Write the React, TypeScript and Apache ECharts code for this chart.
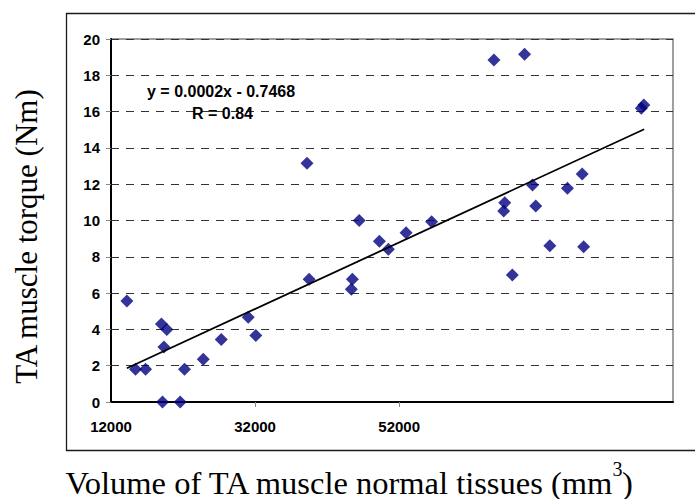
import React, { useEffect, useRef } from "react";
import * as echarts from "echarts";

// Volume of TA muscle normal tissues (mm^3)
const volumes = [
  14200, 15400, 16800, 19000, 19750, 19350, 19150, 21600, 22200, 24800, 27300,
  31050, 32100, 39200, 39500, 45500, 45350, 46450, 49250, 50500, 52950, 56500,
  65150, 69400, 66650, 66500, 70950, 70500, 67700, 72900, 75350, 77400, 77600,
  85600, 85950,
];
// TA muscle torque (Nm)
const torques = [
  5.56, 1.8, 1.8, 4.3, 4.0, 3.03, 0, 0, 1.8, 2.35, 3.45,
  4.67, 3.67, 13.15, 6.76, 6.76, 6.21, 10.0, 8.85, 8.41, 9.33, 9.93,
  18.84, 19.16, 10.98, 10.52, 10.8, 11.96, 7.0, 8.61, 11.77, 12.56, 8.56,
  16.18, 16.36,
];
// trend line end points
const trendX = [14200, 86000];
const trendY = [1.86, 15.03];

const xTicks = [12000, 32000, 52000, 72000];
const equationText = "y = 0.0002x - 0.7468";
const rText = "R = 0.84";
const yTitle = "TA muscle torque (Nm)";
const xTitleMain = "Volume of TA muscle normal tissues (mm";

export default function App() {
  const ref = useRef<HTMLDivElement>(null);
  useEffect(() => {
    if (!ref.current) return;
    const chart = echarts.init(ref.current, null, { renderer: "svg" });
    const labelFont = {
      fontFamily: "'Liberation Sans', Arial, sans-serif",
      fontWeight: "bold" as const,
      fontSize: 15,
      color: "#000",
    };
    const serif = "'Liberation Serif', 'Times New Roman', serif";
    chart.setOption({
      animation: false,
      backgroundColor: "#fff",
      grid: {
        left: 111,
        top: 39,
        right: 22,
        bottom: 97,
        show: true,
        borderColor: "#808080",
        borderWidth: 1.5,
      },
      xAxis: {
        type: "value",
        min: 12000,
        max: 90000,
        interval: 20000,
        axisLine: { show: true, onZero: false, lineStyle: { color: "#000", width: 2 } },
        axisTick: {
          show: true,
          length: 5,
          customValues: xTicks.slice(1),
          lineStyle: { color: "#888", width: 1 },
        },
        axisLabel: {
          ...labelFont,
          margin: 17,
          showMaxLabel: false,
          customValues: xTicks,
          formatter: (v: number) => (xTicks.includes(v) ? String(v) : ""),
        },
        splitLine: { show: false },
      },
      yAxis: {
        type: "value",
        min: 0,
        max: 20,
        interval: 2,
        axisLine: { show: true, lineStyle: { color: "#000", width: 2 } },
        axisTick: { show: true, length: 5, lineStyle: { color: "#888", width: 1 } },
        axisLabel: { ...labelFont, margin: 11 },
        splitLine: {
          show: true,
          lineStyle: { color: "#333", width: 1, type: [8, 7] },
        },
      },
      series: [
        {
          type: "scatter",
          data: volumes.map((v, i) => [v, torques[i]]),
          symbol: "diamond",
          symbolSize: 13,
          itemStyle: { color: "#000080" },
          z: 2,
        },
        {
          type: "line",
          data: trendX.map((v, i) => [v, trendY[i]]),
          symbol: "none",
          lineStyle: { color: "#000", width: 1.8 },
          z: 3,
        },
      ],
      graphic: [
        {
          type: "rect",
          shape: { x: 66.5, y: 13.5, width: 700, height: 437 },
          style: { fill: "none", stroke: "#1a1a1a", lineWidth: 1.3 },
          silent: true,
          z: 0,
        },
        {
          type: "text",
          x: 147,
          y: 91,
          style: {
            text: equationText,
            fontFamily: "'Liberation Sans', Arial, sans-serif",
            fontWeight: "bold",
            fontSize: 16,
            fill: "#000",
            verticalAlign: "middle",
          },
          z: 10,
        },
        {
          type: "text",
          x: 192,
          y: 113,
          style: {
            text: rText,
            fontFamily: "'Liberation Sans', Arial, sans-serif",
            fontWeight: "bold",
            fontSize: 16,
            fill: "#000",
            verticalAlign: "middle",
          },
          z: 10,
        },
        {
          type: "text",
          x: 26.5,
          y: 236.5,
          rotation: Math.PI / 2,
          style: {
            text: yTitle,
            fontFamily: serif,
            fontSize: 31,
            fill: "#000",
            align: "center",
            verticalAlign: "middle",
          },
          z: 10,
        },
        {
          type: "text",
          x: 65.5,
          y: 483,
          style: {
            text: xTitleMain,
            fontFamily: serif,
            fontSize: 32.5,
            lineHeight: 28,
            fill: "#000",
            align: "left",
            verticalAlign: "middle",
          },
          z: 10,
        },
        {
          type: "text",
          x: 612.5,
          y: 469,
          style: {
            text: "3",
            fontFamily: serif,
            fontSize: 20,
            fill: "#000",
            align: "left",
            verticalAlign: "middle",
          },
          z: 10,
        },
        {
          type: "text",
          x: 622,
          y: 483,
          style: {
            text: ")",
            fontFamily: serif,
            fontSize: 32.5,
            lineHeight: 28,
            fill: "#000",
            align: "left",
            verticalAlign: "middle",
          },
          z: 10,
        },
      ],
    });
    return () => chart.dispose();
  }, []);
  return <div ref={ref} style={{ width: 695, height: 499, position: "absolute", left: 0, top: 0 }} />;
}
